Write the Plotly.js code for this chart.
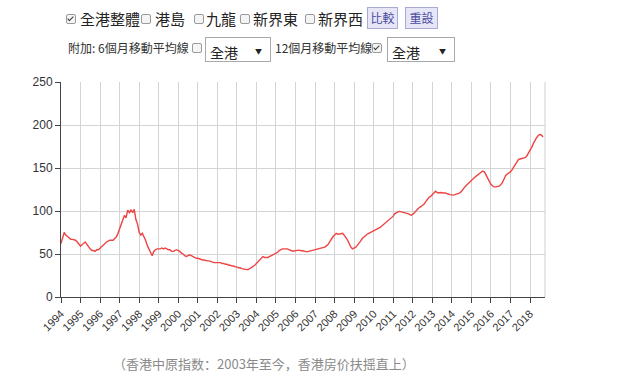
<!DOCTYPE html>
<html>
<head>
<meta charset="utf-8">
<script src="https://cdn.plot.ly/plotly-3.0.1.min.js"></script>
<style>
  html, body { margin:0; padding:0; background:#fff; }
  #wrap { position:relative; width:620px; height:380px; overflow:hidden; }
  #chart { position:absolute; left:0; top:0; width:620px; height:380px; }
  .ctl { position:absolute; font-family:"Noto Sans CJK TC","Noto Sans CJK SC",sans-serif; color:#222; white-space:nowrap; line-height:1; z-index:5; }
  .cb { position:absolute; width:8px; height:8px; border:1px solid #9a9a9a; border-radius:2px; background:#f4f4f4; z-index:5; }
  .cb.on::after { content:""; position:absolute; left:2px; top:0px; width:2px; height:5px; border:solid #333; border-width:0 1.5px 1.5px 0; transform:rotate(45deg); }
  .btn { position:absolute; border:1px solid #a9a9d6; background:#e6e6f6; color:#4a4aa0; font-family:"Noto Sans CJK TC",sans-serif; font-size:12px; text-align:center; z-index:5; box-sizing:border-box; }
  .sel { position:absolute; border:1px solid #a8a8a8; background:#fff; box-sizing:border-box; font-family:"Noto Sans CJK TC",sans-serif; font-size:14px; color:#222; z-index:5; }
  .sel span.t { position:absolute; left:4px; top:4px; }
  .sel span.a { position:absolute; right:8px; top:8px; font-size:7px; }
</style>
</head>
<body>
<div id="wrap">
  <div id="chart"></div>

  <div class="cb on" style="left:66px;top:14px;"></div>
  <div class="ctl" style="left:80px;top:11px;font-size:15px;">全港整體</div>
  <div class="cb" style="left:141px;top:14px;"></div>
  <div class="ctl" style="left:155px;top:11px;font-size:15px;">港島</div>
  <div class="cb" style="left:194px;top:14px;"></div>
  <div class="ctl" style="left:206px;top:11px;font-size:15px;">九龍</div>
  <div class="cb" style="left:240px;top:14px;"></div>
  <div class="ctl" style="left:253px;top:11px;font-size:15px;">新界東</div>
  <div class="cb" style="left:305px;top:14px;"></div>
  <div class="ctl" style="left:318px;top:11px;font-size:15px;">新界西</div>
  <div class="btn" style="left:367px;top:7px;width:31px;height:22px;line-height:20px;">比較</div>
  <div class="btn" style="left:405px;top:7px;width:33px;height:22px;line-height:20px;">重設</div>

  <div class="ctl" style="left:68px;top:42px;font-size:12px;color:#333;">附加: 6個月移動平均線</div>
  <div class="cb" style="left:192px;top:43px;"></div>
  <div class="sel" style="left:205px;top:37px;width:66px;height:25px;"><span class="t">全港</span><span class="a">▼</span></div>
  <div class="ctl" style="left:275px;top:42px;font-size:12px;color:#333;">12個月移動平均線</div>
  <div class="cb on" style="left:372px;top:43px;"></div>
  <div class="sel" style="left:387px;top:37px;width:68px;height:25px;"><span class="t">全港</span><span class="a">▼</span></div>
</div>

<script>
// Centa-City Leading Index, monthly from 1994-01
const startYear = 1994;
const cclValues = [
  // 1994
  62, 70, 75, 72, 70, 69, 67, 67, 66, 66, 64, 62,
  // 1995
  59, 61, 63, 64, 61, 58, 56, 54, 54, 53, 55, 55,
  // 1996
  57, 59, 61, 63, 64, 65, 66, 66, 66, 68, 70, 74,
  // 1997
  80, 86, 91, 95, 92, 101, 98, 101, 98, 102, 90, 85,
  // 1998
  75, 72, 74, 70, 66, 60, 55, 52, 48, 53, 55, 56,
  // 1999
  56, 56, 57, 56, 57, 56, 55, 55, 53, 53, 54, 55,
  // 2000
  54, 53, 51, 50, 48, 47, 48, 49, 48, 47, 46, 45,
  // 2001
  45, 44, 44, 43, 43, 42, 42, 42, 41, 41, 40, 40,
  // 2002
  40, 40, 40, 39, 39, 38, 38, 37, 37, 36, 36, 35,
  // 2003
  35, 34, 34, 33, 32.5, 32, 31.8, 32, 33, 34, 35.5, 37,
  // 2004
  39, 42, 44, 46, 47, 46, 46, 46, 47, 48, 49, 50,
  // 2005
  51, 52, 54, 55.5, 56, 56, 56, 56, 55, 54, 53.5, 53.5,
  // 2006
  54, 54.5, 54.5, 54, 54, 53.5, 53, 52.5, 53, 53.5, 53.5, 54,
  // 2007
  55, 55.5, 56, 56.5, 57, 57.5, 58, 59.5, 61, 64, 68, 70,
  // 2008
  72, 74, 73, 73, 73.5, 74, 72, 69, 66, 61, 58, 56,
  // 2009
  57, 58, 60, 62, 65, 68, 70, 71.5, 73, 74, 75, 75.5,
  // 2010
  77, 78, 79, 80, 81, 82.5, 84, 86, 87, 88.5, 90, 92,
  // 2011
  94, 97, 98.5, 99, 99.5, 99, 99, 98.5, 98, 97, 96, 95,
  // 2012
  96, 98, 101, 103, 104, 105, 106.5, 108, 111, 114, 116, 117,
  // 2013
  119, 121, 123, 121.5, 121, 121.5, 121, 121, 121, 120, 119.5, 119,
  // 2014
  118.5, 118.5, 119, 119.5, 120, 121, 123, 126, 128, 130, 132, 134,
  // 2015
  135.5, 137, 139, 140.5, 142, 143.5, 145, 146.5, 145.5, 142, 138, 134,
  // 2016
  131, 129, 128, 128, 128.5, 129, 130.5, 133, 137, 141, 143, 144,
  // 2017
  145.5, 148, 151, 154, 158, 160, 160.5, 161, 161.5, 162, 164, 167,
  // 2018
  170, 174, 178, 182, 185, 187.5, 189, 188.5, 186
];
const yearLabels = ["1994","1995","1996","1997","1998","1999","2000","2001","2002","2003","2004","2005","2006","2007","2008","2009","2010","2011","2012","2013","2014","2015","2016","2017","2018"];
const caption = "（香港中原指数：2003年至今，香港房价扶摇直上）";

const dates = cclValues.map((v, i) => {
  const y = startYear + Math.floor(i / 12);
  const m = (i % 12) + 1;
  return y + "-" + String(m).padStart(2, "0") + "-01";
});
const tickVals = yearLabels.map(y => y + "-01-01");

const trace = {
  x: dates, y: cclValues, type: "scatter", mode: "lines",
  line: { color: "#ee4444", width: 1.4 },
  hoverinfo: "x+y"
};

const layout = {
  width: 620, height: 380,
  margin: { l: 61, r: 75, t: 82, b: 83 },
  paper_bgcolor: "#fff", plot_bgcolor: "#fff",
  showlegend: false,
  font: { family: "Liberation Sans, Arial, sans-serif", color: "#333" },
  xaxis: {
    type: "date",
    range: ["1994-01-01", "2018-10-08"],
    tickmode: "array", tickvals: tickVals, ticktext: yearLabels,
    tickangle: -45, tickfont: { size: 11, color: "#333" },
    showgrid: true, gridcolor: "#d4d4d4", gridwidth: 1,
    showline: true, linecolor: "#444", linewidth: 1,
    ticks: "outside", ticklen: 5, tickcolor: "#444",
    zeroline: false, fixedrange: true
  },
  yaxis: {
    range: [0, 250], dtick: 50, tick0: 0,
    tickfont: { size: 12, color: "#333" },
    showgrid: true, gridcolor: "#d4d4d4", gridwidth: 1,
    showline: true, linecolor: "#444", linewidth: 1,
    ticks: "outside", ticklen: 5, tickcolor: "#444",
    zeroline: false, fixedrange: true
  },
  shapes: [
    { type: "line", xref: "paper", yref: "paper", x0: 1, x1: 1, y0: 0, y1: 1,
      line: { color: "#cfcfcf", width: 1 } }
  ],
  annotations: [
    { text: caption, xref: "paper", yref: "paper", x: 0.42, y: -0.31,
      xanchor: "center", yanchor: "middle", showarrow: false,
      font: { family: "Noto Sans CJK SC, sans-serif", size: 13, color: "#8a8a8a" } }
  ]
};

Plotly.newPlot("chart", [trace], layout, { displayModeBar: false, staticPlot: true });
</script>
</body>
</html>
